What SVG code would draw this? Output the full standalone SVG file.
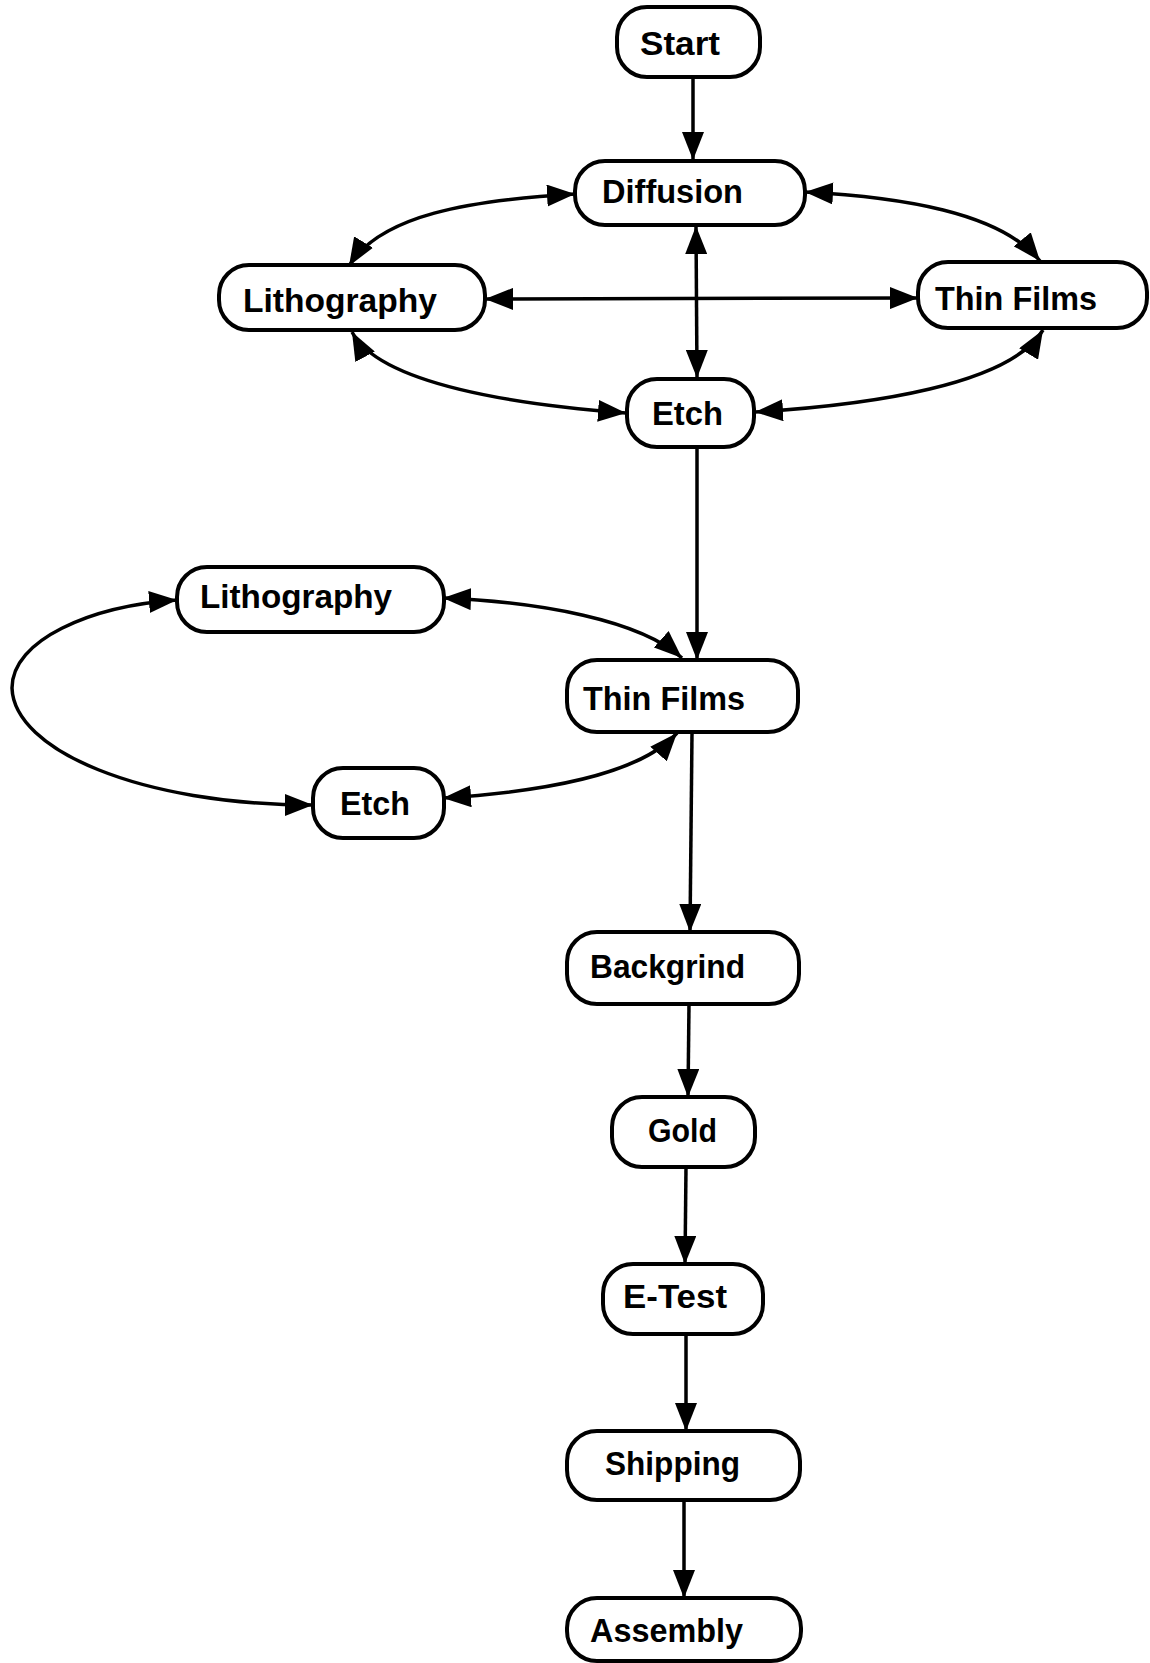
<svg xmlns="http://www.w3.org/2000/svg" width="1150" height="1663" viewBox="0 0 1150 1663">
  <defs>
    <style>
      .box { fill: #fff; stroke: #000; stroke-width: 4; }
      .lbl { font-family: "Liberation Sans", Arial, sans-serif; font-weight: bold; font-size: 33px; fill: #000; }
      .edge { fill: none; stroke: #000; stroke-width: 3.5; }
      .one { marker-end: url(#ah); }
      .two { marker-start: url(#ah); marker-end: url(#ah); }
    </style>
    <marker id="ah" viewBox="0 0 28 22" refX="28" refY="11" markerWidth="28" markerHeight="22" markerUnits="userSpaceOnUse" orient="auto-start-reverse">
      <path d="M0,0 L28,11 L0,22 Z" fill="#000"/>
    </marker>
  </defs>
  <rect width="1150" height="1663" fill="#fff"/>

  <!-- connectors -->
  <g id="connectors">
    <path class="edge one" d="M693 77 L693 160"/>
    <path class="edge two" d="M696 226 L697 378"/>
    <path class="edge two" d="M575 194 C470 200 380 215 349 266"/>
    <path class="edge two" d="M805 192 C900 197 1000 212 1040 261"/>
    <path class="edge two" d="M485 299 L918 298"/>
    <path class="edge two" d="M352 332 C380 385 520 405 626 413"/>
    <path class="edge two" d="M1043 330 C1010 385 870 405 755 412"/>
    <path class="edge one" d="M697 448 L697 660"/>
    <path class="edge two" d="M443 598 C540 602 640 620 682 658"/>
    <path class="edge two" d="M443 798 C540 792 640 775 677 733"/>
    <path class="edge two" d="M177 600 C90 606 12 640 12 688 C14 750 140 805 313 805"/>
    <path class="edge one" d="M692 733 L690 932"/>
    <path class="edge one" d="M689 1004 L688 1097"/>
    <path class="edge one" d="M686 1167 L685 1264"/>
    <path class="edge one" d="M686 1334 L686 1431"/>
    <path class="edge one" d="M684 1500 L684 1598"/>
  </g>

  <!-- process steps -->
  <g id="start">
    <rect class="box" x="617" y="7" width="143" height="70" rx="30"/>
    <text class="lbl" x="640" y="55" textLength="80" lengthAdjust="spacingAndGlyphs">Start</text>
  </g>
  <g id="diffusion">
    <rect class="box" x="575" y="161" width="230" height="64" rx="30"/>
    <text class="lbl" x="602" y="203" textLength="141" lengthAdjust="spacingAndGlyphs">Diffusion</text>
  </g>
  <g id="lithography-1">
    <rect class="box" x="219" y="265" width="266" height="65" rx="30"/>
    <text class="lbl" x="243" y="312" textLength="194" lengthAdjust="spacingAndGlyphs">Lithography</text>
  </g>
  <g id="thin-films-1">
    <rect class="box" x="918" y="262" width="229" height="66" rx="30"/>
    <text class="lbl" x="935" y="310" textLength="162" lengthAdjust="spacingAndGlyphs">Thin Films</text>
  </g>
  <g id="etch-1">
    <rect class="box" x="627" y="379" width="127" height="68" rx="30"/>
    <text class="lbl" x="652" y="425" textLength="71" lengthAdjust="spacingAndGlyphs">Etch</text>
  </g>
  <g id="lithography-2">
    <rect class="box" x="177" y="567" width="267" height="65" rx="30"/>
    <text class="lbl" x="200" y="608" textLength="192" lengthAdjust="spacingAndGlyphs">Lithography</text>
  </g>
  <g id="thin-films-2">
    <rect class="box" x="567" y="660" width="231" height="72" rx="30"/>
    <text class="lbl" x="583" y="710" textLength="162" lengthAdjust="spacingAndGlyphs">Thin Films</text>
  </g>
  <g id="etch-2">
    <rect class="box" x="313" y="768" width="131" height="70" rx="30"/>
    <text class="lbl" x="340" y="815" textLength="70" lengthAdjust="spacingAndGlyphs">Etch</text>
  </g>
  <g id="backgrind">
    <rect class="box" x="567" y="932" width="232" height="72" rx="30"/>
    <text class="lbl" x="590" y="978" textLength="155" lengthAdjust="spacingAndGlyphs">Backgrind</text>
  </g>
  <g id="gold">
    <rect class="box" x="612" y="1097" width="143" height="70" rx="30"/>
    <text class="lbl" x="648" y="1142" textLength="69" lengthAdjust="spacingAndGlyphs">Gold</text>
  </g>
  <g id="e-test">
    <rect class="box" x="603" y="1264" width="160" height="70" rx="30"/>
    <text class="lbl" x="623" y="1308" textLength="104" lengthAdjust="spacingAndGlyphs">E-Test</text>
  </g>
  <g id="shipping">
    <rect class="box" x="567" y="1431" width="233" height="69" rx="30"/>
    <text class="lbl" x="605" y="1475" textLength="135" lengthAdjust="spacingAndGlyphs">Shipping</text>
  </g>
  <g id="assembly">
    <rect class="box" x="567" y="1598" width="234" height="63" rx="30"/>
    <text class="lbl" x="590" y="1642" textLength="153" lengthAdjust="spacingAndGlyphs">Assembly</text>
  </g>
</svg>
